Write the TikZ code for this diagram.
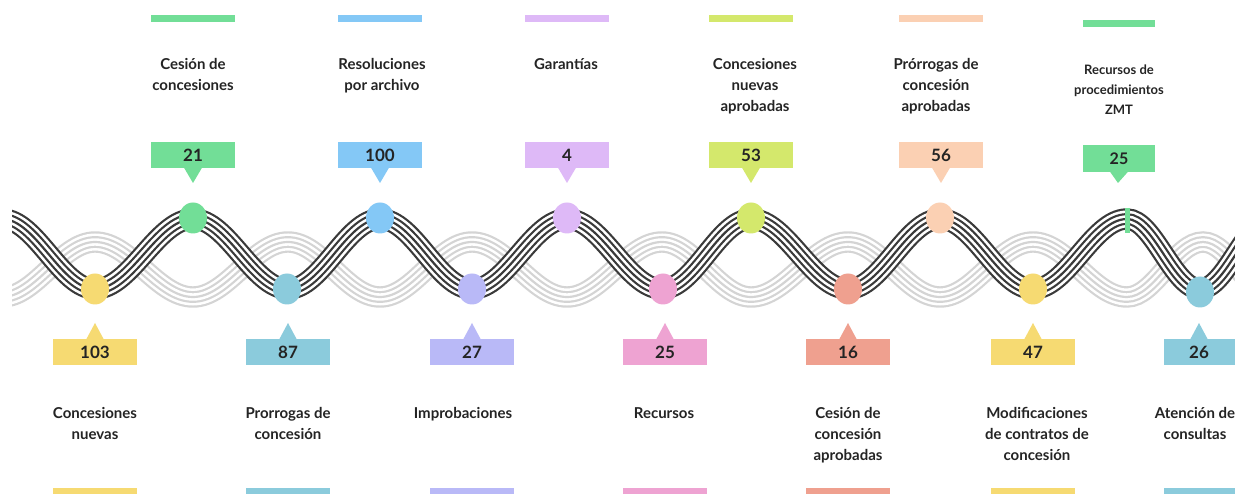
\documentclass[tikz,border=0pt]{standalone}
\usepackage{fontspec}
\setmainfont{Lato}
\usetikzlibrary{shapes.geometric}

\definecolor{ink}{HTML}{242424}
\definecolor{wavedark}{HTML}{3A3A3A}
\definecolor{wavelight}{HTML}{D4D4D4}
\definecolor{cGreen}{HTML}{72DE97}
\definecolor{cSky}{HTML}{84C8F6}
\definecolor{cLilac}{HTML}{DEB9F7}
\definecolor{cLime}{HTML}{D4E86C}
\definecolor{cPeach}{HTML}{FBD0B3}
\definecolor{cYellow}{HTML}{F6DA72}
\definecolor{cTeal}{HTML}{8BCBDC}
\definecolor{cLav}{HTML}{B9B9F7}
\definecolor{cPink}{HTML}{EEA3D2}
\definecolor{cSalmon}{HTML}{EFA08F}

\tikzset{
  stripes/.style={draw=#1, line width=21.4pt,
    postaction={draw=white, line width=17pt},
    postaction={draw=#1, line width=11.8pt},
    postaction={draw=white, line width=7.4pt},
    postaction={draw=#1, line width=2.2pt}},
  blob/.style={ellipse, minimum width=28pt, minimum height=31pt, inner sep=0pt, fill=#1},
  valbox/.style={rectangle, minimum width=84pt, minimum height=26pt, inner sep=0pt,
    text=ink, fill=#1, font=\fontsize{17}{17}\selectfont\bfseries},
  topbar/.style={rectangle, minimum width=84pt, minimum height=7pt, inner sep=0pt, fill=#1},
  lbl/.style={align=center, inner sep=0pt, anchor=north, text=ink,
    font=\fontsize{15}{21}\selectfont\bfseries},
  smalllbl/.style={lbl, font=\fontsize{13}{20}\selectfont\bfseries},
}

\begin{document}
\begin{tikzpicture}[x=1pt,y=-1pt]
\useasboundingbox (0,0) rectangle (1235,494);
\clip (0,0) rectangle (1235,494);
\fill[white] (0,0) rectangle (1235,494);

% the two braided waves
\begin{scope}
  \clip (12,0) rectangle (1235,494);
  \draw[stripes=wavelight] (2,297)
    \foreach \xa/\ya/\xb/\yb in {2/297/95/242, 95/242/193/297, 193/297/288/242,
      288/242/380/297, 380/297/472/242, 472/242/567/297, 567/297/662/242,
      662/242/751/297, 751/297/848/242, 848/242/940/297, 940/297/1033/242,
      1033/242/1127/297, 1127/297/1203/242, 1203/242/1275/297}
    { .. controls ({\xa+0.364*(\xb-\xa)},\ya) and ({\xb-0.364*(\xb-\xa)},\yb) .. (\xb,\yb) };
  \draw[stripes=wavedark] (2,219)
    \foreach \xa/\ya/\xb/\yb in {2/219/95/289, 95/289/193/219, 193/219/288/289,
      288/289/380/219, 380/219/472/289, 472/289/567/219, 567/219/662/289,
      662/289/751/219, 751/219/848/289, 848/289/940/219, 940/219/1033/289,
      1033/289/1127/219, 1127/219/1200/289, 1200/289/1272/219}
    { .. controls ({\xa+0.364*(\xb-\xa)},\ya) and ({\xb-0.364*(\xb-\xa)},\yb) .. (\xb,\yb) };
\end{scope}

% markers on the crests and troughs
\node[blob=cGreen]  (d1)  at (193,218) {};
\node[blob=cSky]    (d2)  at (380,218) {};
\node[blob=cLilac]  (d3)  at (567,218) {};
\node[blob=cLime]   (d4)  at (751,218) {};
\node[blob=cPeach]  (d5)  at (940,218) {};
\fill[cGreen] (1124.5,208) rectangle (1129.5,233);
\node[blob=cYellow] (e1)  at (95,289) {};
\node[blob=cTeal]   (e2)  at (287,289) {};
\node[blob=cLav]    (e3)  at (472,289) {};
\node[blob=cPink]   (e4)  at (663,289) {};
\node[blob=cSalmon] (e5)  at (848,289) {};
\node[blob=cYellow] (e6)  at (1033,289) {};
\node[blob=cTeal]   (e7)  at (1200,292) {};

% upper row: bar, caption, value callout
\foreach \n/\x/\c/\v in {1/193/cGreen/21, 2/380/cSky/100, 3/567/cLilac/4,
    4/751/cLime/53, 5/941/cPeach/56}{
  \node[topbar=\c] (tb\n) at (\x,18.5) {};
  \node[valbox=\c] (tv\n) at (\x,155) {\v};
  \coordinate (tt\n) at (\x,183);
  \fill[\c] ([xshift=-9pt,yshift=0.5pt]tv\n.south) -- (tt\n) -- ([xshift=9pt,yshift=0.5pt]tv\n.south) -- cycle;
}
\node[lbl] (tl1) at (193,57) {\rule{0pt}{12pt}Cesión de\\concesiones};
\node[lbl] (tl2) at (382,57) {\rule{0pt}{12pt}Resoluciones\\por archivo};
\node[lbl] (tl3) at (566,57) {\rule{0pt}{12pt}Garantías};
\node[lbl] (tl4) at (755,57) {\rule{0pt}{12pt}Concesiones\\nuevas\\aprobadas};
\node[lbl] (tl5) at (936,57) {\rule{0pt}{12pt}Prórrogas de\\concesión\\aprobadas};

% upper row, last column (narrower)
\node[topbar=cGreen, minimum width=72pt] (tb6) at (1119,23.5) {};
\node[valbox=cGreen, minimum width=72pt, minimum height=27pt,
      font=\fontsize{16}{16}\selectfont\bfseries] (tv6) at (1119,158.5) {25};
\coordinate (tt6) at (1118,183);
\fill[cGreen] ([xshift=-9pt,yshift=0.5pt]tv6.south) -- (tt6) -- ([xshift=9pt,yshift=0.5pt]tv6.south) -- cycle;
\node[smalllbl] (tl6) at (1119,63) {\rule{0pt}{11pt}Recursos de\\procedimientos\\ZMT};

% lower row: value callout, caption, bar
\foreach \n/\x/\c/\v in {1/95/cYellow/103, 2/288/cTeal/87, 3/472/cLav/27,
    4/665/cPink/25, 5/848/cSalmon/16, 6/1033/cYellow/47}{
  \node[valbox=\c] (bv\n) at (\x,352.5) {\v};
  \coordinate (bt\n) at (\x,323);
  \fill[\c] ([xshift=-9pt,yshift=-0.5pt]bv\n.north) -- (bt\n) -- ([xshift=9pt,yshift=-0.5pt]bv\n.north) -- cycle;
  \node[topbar=\c, minimum height=8pt] (bb\n) at (\x,492) {};
}
\node[valbox=cTeal] (bv7) at (1206,352.5) {\hspace*{-14pt}26};
\coordinate (bt7) at (1199,323);
\fill[cTeal] ([xshift=-16pt,yshift=-0.5pt]bv7.north) -- (bt7) -- ([xshift=2pt,yshift=-0.5pt]bv7.north) -- cycle;
\node[topbar=cTeal, minimum height=8pt] (bb7) at (1206,492) {};

\node[lbl] (bl1) at (95,406)   {\rule{0pt}{12pt}Concesiones\\nuevas};
\node[lbl] (bl2) at (288,406)  {\rule{0pt}{12pt}Prorrogas de\\concesión};
\node[lbl] (bl3) at (463,406)  {\rule{0pt}{12pt}Improbaciones};
\node[lbl] (bl4) at (664,406)  {\rule{0pt}{12pt}Recursos};
\node[lbl] (bl5) at (848,406)  {\rule{0pt}{12pt}Cesión de\\concesión\\aprobadas};
\node[lbl] (bl6) at (1037,406) {\rule{0pt}{12pt}Modificaciones\\de contratos de\\concesión};
\node[lbl] (bl7) at (1195,406) {\rule{0pt}{12pt}Atención de\\consultas};
\end{tikzpicture}
\end{document}
